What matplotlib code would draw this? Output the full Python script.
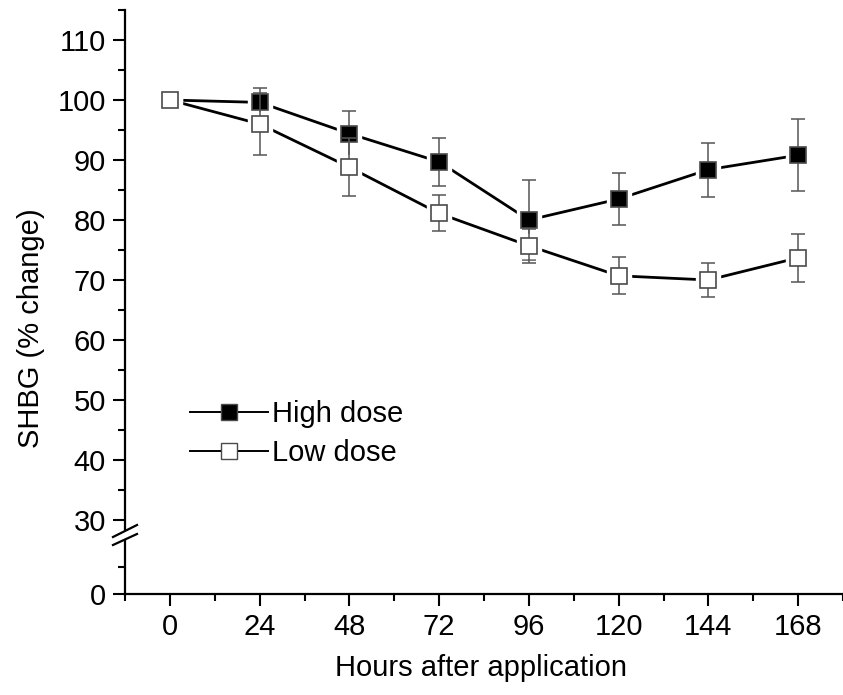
import matplotlib
matplotlib.use("Agg")
import matplotlib.pyplot as plt
from matplotlib.lines import Line2D
import numpy as np

plt.rcParams['font.family'] = ['Liberation Sans', 'DejaVu Sans']

hours = [0, 24, 48, 72, 96, 120, 144, 168]
high = [100, 99.6, 94.4, 89.7, 80.0, 83.5, 88.4, 90.8]
high_err = [0, 2.4, 3.7, 4.0, 6.7, 4.4, 4.5, 6.0]
low = [100, 96.0, 88.8, 81.1, 75.7, 70.7, 70.0, 73.7]
low_err = [0, 5.1, 4.8, 3.0, 2.8, 3.1, 2.8, 4.0]
xticks = [0, 24, 48, 72, 96, 120, 144, 168]
yticks_upper = [30, 40, 50, 60, 70, 80, 90, 100, 110]

W, H = 843, 695
FS = 21
fig = plt.figure(figsize=(W / 100, H / 100), dpi=100)

left = 125 / W
width = 718 / W
ax_lo = fig.add_axes([left, 101 / H, width, 54 / H])
ax_up = fig.add_axes([left, 166 / H, width, 519 / H], sharex=ax_lo)

xlim = (-12, 179.5)
ax_lo.set_xlim(*xlim)
ax_lo.set_ylim(0, 10)
ax_up.set_ylim(28.5, 115)

for ax in (ax_lo, ax_up):
    ax.patch.set_alpha(0)
    for s in ('top', 'right'):
        ax.spines[s].set_visible(False)
    ax.spines['left'].set_linewidth(1.6)
    ax.spines['bottom'].set_linewidth(1.6)
    ax.tick_params(which='major', direction='out', length=8.6, width=1.5,
                   labelsize=FS, pad=5, color='black')
    ax.tick_params(which='minor', direction='out', length=5, width=1.5)

ax_up.spines['bottom'].set_visible(False)
ax_up.tick_params(axis='x', which='both', bottom=False, labelbottom=False)

ax_lo.set_xticks(xticks)
ax_lo.set_xticks(np.arange(-12, 181, 24), minor=True)
ax_lo.set_yticks([0])
ax_lo.set_yticks([5], minor=True)
ax_up.set_yticks(yticks_upper)
ax_up.set_yticks(np.arange(35, 116, 10), minor=True)

ms = 11
pad_ms = 17
edge = '#4a4a4a'
ecol = '#555555'

series = [
    (high, high_err, 'black', 'High dose'),
    (low, low_err, 'white', 'Low dose'),
]
for i, (vals, errs, face, lab) in enumerate(series):
    ax_up.plot(hours, vals, color='black', lw=2.0, zorder=1 + i * 10, clip_on=False)
    ax_up.plot(hours, vals, ls='none', marker='s', ms=pad_ms, mfc='white',
               mec='white', zorder=2 + i * 10, clip_on=False)
    ax_up.errorbar(hours[1:], vals[1:], yerr=errs[1:], fmt='none', ecolor=ecol,
                   elinewidth=1.1, capsize=5, capthick=1.1, zorder=3 + i * 10)
    ax_up.plot(hours, vals, ls='none', marker='s', ms=ms, mfc=face, mec=edge,
               mew=1.2, zorder=4 + i * 10, clip_on=False)

handles = [
    Line2D([], [], color='black', lw=1.4, marker='s', ms=11, mfc='black', mec=edge, mew=1.0),
    Line2D([], [], color='black', lw=1.4, marker='s', ms=11, mfc='white', mec=edge, mew=1.0),
]
ax_up.legend(handles, ['High dose', 'Low dose'], loc='upper left',
             bbox_to_anchor=((190 - 125) / 718, 1 - (400 - 10) / 519),
             frameon=False, fontsize=FS, handlelength=2.67, handletextpad=0.15,
             labelspacing=0.37, borderpad=0, borderaxespad=0)

# axis break marks
def fx(px):
    return px / W

def fy(py):
    return 1 - py / H

for (x0, y0, x1, y1) in [(113, 537, 137, 525), (113, 545, 137, 534)]:
    fig.add_artist(Line2D([fx(x0), fx(x1)], [fy(y0), fy(y1)], color='black',
                          lw=1.6, transform=fig.transFigure))

fig.text(31 / W, fy(328), 'SHBG (% change)', rotation=90, ha='center',
         va='center', fontsize=FS)
fig.text(481 / W, fy(668), 'Hours after application', ha='center',
         va='center', fontsize=FS)

fig.savefig('out.png', dpi=100)
